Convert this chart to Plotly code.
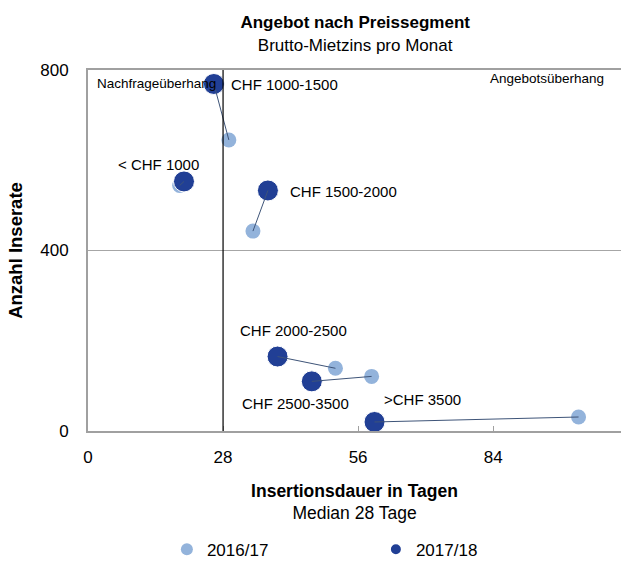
import plotly.graph_objects as go

segments = ["< CHF 1000", "CHF 1000-1500", "CHF 1500-2000", "CHF 2000-2500", "CHF 2500-3500", ">CHF 3500"]
dauer_1617 = [19.0, 29.2, 34.2, 51.3, 58.8, 101.7]
inserate_1617 = [544, 645, 443, 139, 121, 31]
dauer_1718 = [19.9, 26.1, 37.3, 39.3, 46.4, 59.4]
inserate_1718 = [553, 769, 533, 165, 110, 20]
x_ticks = [0, 28, 56, 84]
y_ticks = [0, 400, 800]
median_tage = 28

LIGHT = "#93B3DB"
DARK = "#213F95"
LINE = "#3E5478"
FONT = "Liberation Sans, Arial, sans-serif"

fig = go.Figure()

fig.add_trace(go.Scatter(x=dauer_1617, y=inserate_1617, mode="markers", name="2016/17",
                         marker=dict(color=LIGHT, size=15, line=dict(width=0))))
fig.add_trace(go.Scatter(x=dauer_1718, y=inserate_1718, mode="markers", name="2017/18",
                         marker=dict(color=DARK, size=21, line=dict(width=1, color="white"))))
for i in range(len(segments)):
    fig.add_trace(go.Scatter(x=[dauer_1718[i], dauer_1617[i]], y=[inserate_1718[i], inserate_1617[i]],
                             mode="lines", line=dict(color=LINE, width=1), showlegend=False, hoverinfo="skip"))

# median line and 400 grid line
fig.add_shape(type="line", xref="x", yref="paper", x0=median_tage, x1=median_tage, y0=0, y1=1,
              line=dict(color="black", width=1.2), layer="above")
fig.add_shape(type="line", xref="paper", yref="y", x0=0, x1=1, y0=400, y1=400,
              line=dict(color="#A6A6A6", width=1.2), layer="below")

# segment label anchors (left edge, vertical middle)
label_pos = {
    "< CHF 1000": (5.8, 591),
    "CHF 1000-1500": (29.2, 767),
    "CHF 1500-2000": (41.4, 531),
    "CHF 2000-2500": (31.2, 222),
    "CHF 2500-3500": (31.6, 61),
    ">CHF 3500": (61.0, 69),
}
for s in segments:
    lx, ly = label_pos[s]
    fig.add_annotation(x=lx, y=ly, text=s, showarrow=False, xanchor="left", yanchor="middle",
                       font=dict(family=FONT, size=15, color="black"))

fig.add_annotation(xref="paper", yref="paper", x=0.013, y=0.962, text="Nachfrageüberhang",
                   showarrow=False, xanchor="left", yanchor="middle",
                   font=dict(family=FONT, size=13.5, color="black"))
fig.add_annotation(xref="paper", yref="paper", x=0.972, y=0.977, text="Angebotsüberhang",
                   showarrow=False, xanchor="right", yanchor="middle",
                   font=dict(family=FONT, size=13.5, color="black"))

fig.update_layout(
    width=622, height=569,
    margin=dict(l=88, r=1, t=70, b=136),
    paper_bgcolor="white", plot_bgcolor="white",
    font=dict(family=FONT, size=17, color="black"),
    title=dict(text="<b>Angebot nach Preissegment</b><br><span style='font-size:17px'>Brutto-Mietzins pro Monat</span>",
               x=0.571, xanchor="center", y=0.95, yanchor="top",
               font=dict(family=FONT, size=17, color="black")),
    xaxis=dict(range=[0, 110.5], tickvals=x_ticks, showgrid=False, zeroline=False,
               showline=True, linecolor="#A0A0A0", linewidth=2, mirror=True,
               ticks="inside", ticklen=5, tickcolor="#A0A0A0", ticklabelstandoff=10,
               tickfont=dict(family=FONT, size=17),
               title=dict(text="<b>Insertionsdauer in Tagen</b><br>Median 28 Tage", standoff=18,
                          font=dict(family=FONT, size=17.5))),
    yaxis=dict(range=[0, 800], tickvals=y_ticks, showgrid=False, zeroline=False,
               showline=True, linecolor="#A0A0A0", linewidth=2,
               ticks="", ticklabelstandoff=14, tickfont=dict(family=FONT, size=17),
               title=dict(text="<b>Anzahl Inserate</b>", standoff=13, font=dict(family=FONT, size=18.5))),
    legend=dict(orientation="h", x=0.148, xanchor="left", y=-0.279, yanchor="top",
                font=dict(family=FONT, size=17), entrywidth=164, itemsizing="constant"),
    showlegend=True,
)

fig.write_html("out.html", config={"displayModeBar": False},
               post_script="document.body.style.margin='0';document.body.style.overflow='hidden';")
